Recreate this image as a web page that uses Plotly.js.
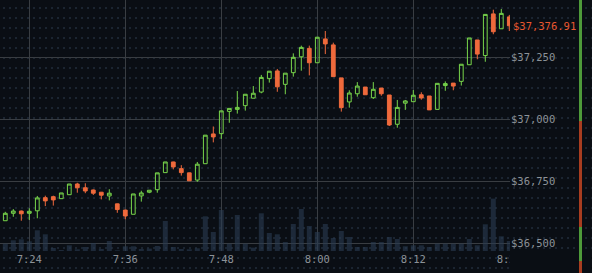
<!DOCTYPE html>
<html>
<head>
<meta charset="utf-8">
<script src="https://cdn.plot.ly/plotly-3.0.1.min.js"></script>
<style>
  html, body { margin: 0; padding: 0; background: #0a0e14; }
  #chart {
    width: 592px; height: 273px;
    background-color: #0a0e14;
    background-image: radial-gradient(circle, #1c2632 0.7px, rgba(0,0,0,0) 0.9px);
    background-size: 6px 10px;
    background-position: 1px 3px;
  }
</style>
</head>
<body>
<div id="chart"></div>
<script>
// ---- data (BTC/USD, 1-minute candles) ----
const times = ['07:21','07:22','07:23','07:24','07:25','07:26','07:27','07:28','07:29','07:30',
  '07:31','07:32','07:33','07:34','07:35','07:36','07:37','07:38','07:39','07:40',
  '07:41','07:42','07:43','07:44','07:45','07:46','07:47','07:48','07:49','07:50',
  '07:51','07:52','07:53','07:54','07:55','07:56','07:57','07:58','07:59','08:00',
  '08:01','08:02','08:03','08:04','08:05','08:06','08:07','08:08','08:09','08:10',
  '08:11','08:12','08:13','08:14','08:15','08:16','08:17','08:18','08:19','08:20',
  '08:21','08:22','08:23','08:24'];
const openP = [36591,36621,36630,36621,36631,36684,36688,36680,36696,36739,
  36724,36715,36706,36691,36659,36634,36617,36691,36706,36716,
  36785,36828,36801,36784,36755,36821,36941,36942,37032,37040,
  37055,37085,37110,37164,37195,37141,37188,37252,37286,37228,
  37324,37300,37167,37070,37103,37130,37087,37126,37098,36980,
  37065,37071,37099,37094,37040,37136,37146,37153,37220,37320,
  37257,37425,37365,37413];
const highP = [36627,36638,36632,36641,36691,36692,36692,36703,36739,36744,
  36742,36717,36707,36718,36660,36635,36699,36712,36714,36784,
  36828,36829,36815,36785,36828,36936,36971,37034,37044,37114,
  37101,37134,37179,37194,37203,37186,37266,37297,37297,37331,
  37356,37309,37167,37117,37150,37130,37150,37126,37098,37078,
  37078,37118,37109,37094,37145,37153,37146,37222,37328,37320,
  37423,37442,37445,37421];
const lowP = [36591,36607,36591,36594,36601,36650,36652,36680,36696,36704,
  36702,36695,36677,36673,36623,36597,36617,36668,36702,36704,
  36785,36798,36773,36752,36748,36821,36907,36921,36986,37023,
  37035,37085,37105,37148,37111,37101,37172,37196,37177,37228,
  37263,37172,37031,37047,37091,37099,37082,37095,36973,36966,
  37038,37071,37079,37038,37040,37115,37117,37136,37220,37242,
  37232,37343,37365,37356];
const closeP = [36621,36630,36619,36629,36683,36671,36675,36703,36739,36724,
  36711,36702,36694,36702,36636,36610,36699,36703,36714,36784,
  36828,36808,36785,36752,36819,36936,36929,37034,37044,37048,
  37101,37105,37169,37194,37131,37186,37250,37290,37228,37331,
  37304,37172,37047,37106,37134,37099,37121,37103,36977,37048,
  37074,37097,37086,37038,37145,37144,37134,37222,37328,37263,
  37423,37353,37427,37376.91];
const volumeBTC = [7.4,10.7,11.7,9.7,20.7,16.7,3.0,1.0,5.7,1.7,
  4.0,8.0,2.0,10.0,0.7,4.7,4.7,2.0,2.4,5.0,
  30.0,4.0,2.0,1.7,2.7,34.7,19.0,41.0,7.4,36.0,
  7.4,3.4,37.7,18.0,16.7,9.0,27.0,42.0,25.0,19.0,
  27.0,13.0,20.0,14.0,4.0,4.0,9.0,9.0,14.0,12.0,
  4.7,5.7,5.7,4.0,7.4,7.4,7.4,7.4,12.0,5.7,
  26.7,52.4,14.7,10.0];
const priceTicks = [36500, 36750, 37000, 37250];
const priceTickText = priceTicks.map(v => '$' + v.toLocaleString('en-US'));
const day = '2022-01-23 ';

// ---- styles ----
const BG = '#0a0e14';
const GREEN = '#78d64b';
const RED = '#ef6a3c';
const GRID = '#393d42';
const TXT = '#8c9298';
const MONO = 'DejaVu Sans Mono, monospace';

const x = times.map(t => day + t);
const lastClose = closeP[closeP.length - 1];

const candles = {
  type: 'candlestick', x: x,
  open: openP, high: highP, low: lowP, close: closeP,
  increasing: { line: { color: GREEN, width: 1 }, fillcolor: 'rgba(0,0,0,0)' },
  decreasing: { line: { color: RED, width: 1 }, fillcolor: RED },
  whiskerwidth: 0,
  hoverinfo: 'skip', showlegend: false, xaxis: 'x', yaxis: 'y'
};
const vol = {
  type: 'bar', x: x, y: volumeBTC, width: 37500,
  marker: { color: 'rgba(42,60,82,0.6)', line: { width: 0 } },
  hoverinfo: 'skip', showlegend: false, xaxis: 'x', yaxis: 'y2'
};

// plot area: 510 x 251 px
const layout = {
  width: 592, height: 273,
  margin: { l: 0, r: 82, t: 0, b: 22, pad: 0 },
  paper_bgcolor: 'rgba(0,0,0,0)', plot_bgcolor: 'rgba(0,0,0,0)',
  boxgap: 0.33,
  xaxis: {
    type: 'date',
    range: [day + '07:20:20.25', day + '08:24:05.25'],
    tick0: day + '07:24', dtick: 720000, tickformat: '%-H:%M',
    showgrid: true, gridcolor: GRID, gridwidth: 1,
    zeroline: false, showline: false, ticks: '',
    tickfont: { family: MONO, size: 10.5, color: TXT },
    rangeslider: { visible: false }, fixedrange: true
  },
  yaxis: {
    side: 'right', range: [36468.95, 37481.05],
    tickmode: 'array', tickvals: priceTicks, ticktext: priceTickText,
    showgrid: true, gridcolor: GRID, gridwidth: 1,
    zeroline: false, showline: false, ticks: '',
    tickfont: { family: MONO, size: 10.5, color: TXT }, fixedrange: true
  },
  yaxis2: {
    overlaying: 'y', range: [0, 251], visible: false,
    showgrid: false, zeroline: false, fixedrange: true
  },
  shapes: [
    // price panel clips the last time label
    { type: 'rect', xref: 'paper', yref: 'paper', x0: 1.0, x1: 1.2, y0: -0.1, y1: -0.004,
      fillcolor: BG, line: { width: 0 }, layer: 'above' },
    // order-book strip at the right edge
    { type: 'rect', xref: 'paper', yref: 'paper', x0: 579/510, x1: 582/510, y0: 1 - 121/251, y1: 1.0,
      fillcolor: '#4e9a3a', line: { width: 0 }, layer: 'above' },
    { type: 'rect', xref: 'paper', yref: 'paper', x0: 579/510, x1: 582/510, y0: 1 - 227/251, y1: 1 - 121/251,
      fillcolor: '#a83d20', line: { width: 0 }, layer: 'above' },
    { type: 'rect', xref: 'paper', yref: 'paper', x0: 579/510, x1: 582/510, y0: 1 - 261/251, y1: 1 - 227/251,
      fillcolor: '#4e9a3a', line: { width: 0 }, layer: 'above' },
    { type: 'rect', xref: 'paper', yref: 'paper', x0: 579/510, x1: 582/510, y0: 1 - 273/251, y1: 1 - 261/251,
      fillcolor: '#a83d20', line: { width: 0 }, layer: 'above' }
  ],
  annotations: [
    { xref: 'paper', yref: 'y', x: 1, y: lastClose, xanchor: 'left', yanchor: 'middle', xshift: 1,
      text: '$' + lastClose.toLocaleString('en-US', { minimumFractionDigits: 2, maximumFractionDigits: 2 }),
      showarrow: false, font: { family: MONO, size: 10.5, color: '#e8572f' } }
  ]
};

Plotly.newPlot('chart', [vol, candles], layout, { displayModeBar: false, staticPlot: true });
</script>
</body>
</html>
